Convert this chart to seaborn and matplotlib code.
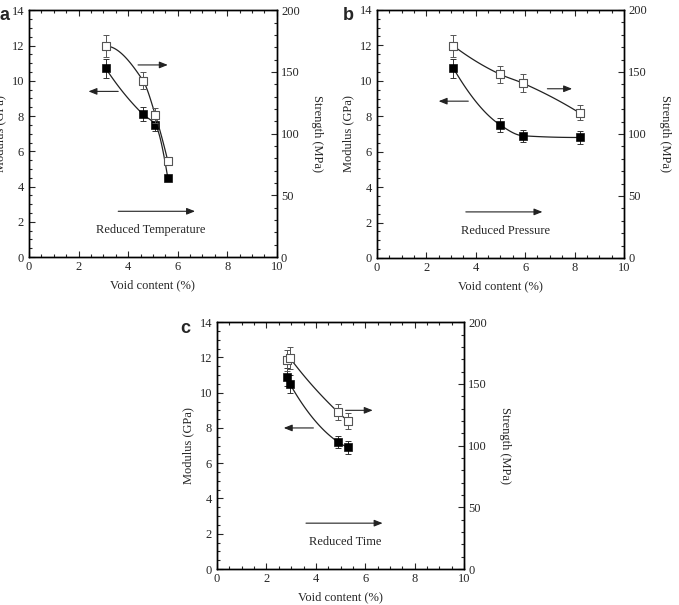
import numpy as np
import pandas as pd
import seaborn as sns
import matplotlib
matplotlib.use("Agg")
import matplotlib.pyplot as plt
from matplotlib.ticker import MultipleLocator

sns.set_style("ticks")
plt.rcParams['font.family'] = ['Liberation Serif', 'DejaVu Serif']

# --- data ---
# a: reduced temperature
void_a = [3.1, 4.6, 5.1, 5.6]
mod_a = [10.7, 8.1, 7.5, 4.5]
mod_err_a = [0.55, 0.4, 0.35, 0.15]
str_a = [171, 143, 115, 78]
str_err_a = [8.6, 7.0, 6.0, 3.5]

# b: reduced pressure
void_b = [3.1, 5.0, 5.9, 8.2]
mod_b = [10.7, 7.5, 6.9, 6.8]
mod_err_b = [0.55, 0.4, 0.35, 0.35]
str_b = [171, 148, 141, 117]
str_err_b = [8.6, 7.0, 7.0, 6.0]

# c: reduced time
void_c = [2.85, 2.95, 4.9, 5.3]
mod_c = [10.9, 10.5, 7.2, 6.9]
mod_err_c = [0.5, 0.5, 0.35, 0.35]
str_c = [169, 171, 127, 120]
str_err_c = [8.6, 8.6, 6.5, 6.5]

panel_labels = ['a', 'b', 'c']
process_labels = ['Reduced Temperature', 'Reduced Pressure', 'Reduced Time']


def pchip(x, y, xs):
    # shape preserving cubic through the measured points (guide line)
    x = np.asarray(x, float); y = np.asarray(y, float)
    h = np.diff(x); d = np.diff(y) / h
    n = len(x)
    m = np.zeros(n)
    for k in range(1, n - 1):
        if d[k - 1] * d[k] > 0:
            w1 = 2 * h[k] + h[k - 1]
            w2 = h[k] + 2 * h[k - 1]
            m[k] = (w1 + w2) / (w1 / d[k - 1] + w2 / d[k])
    def end(h0, h1, d0, d1):
        if n == 2:
            return d0
        e = ((2 * h0 + h1) * d0 - h0 * d1) / (h0 + h1)
        if np.sign(e) != np.sign(d0):
            e = 0.0
        elif np.sign(d0) != np.sign(d1) and abs(e) > abs(3 * d0):
            e = 3 * d0
        return e
    m[0] = end(h[0], h[1] if n > 2 else h[0], d[0], d[1] if n > 2 else d[0])
    m[-1] = end(h[-1], h[-2] if n > 2 else h[-1], d[-1], d[-2] if n > 2 else d[-1])
    out = np.empty_like(xs)
    for i, xv in enumerate(xs):
        k = min(max(np.searchsorted(x, xv) - 1, 0), n - 2)
        t = (xv - x[k]) / h[k]
        h00 = 2 * t**3 - 3 * t**2 + 1
        h10 = t**3 - 2 * t**2 + t
        h01 = -2 * t**3 + 3 * t**2
        h11 = t**3 - t**2
        out[i] = h00 * y[k] + h10 * h[k] * m[k] + h01 * y[k + 1] + h11 * h[k] * m[k + 1]
    return out


fig = plt.figure(figsize=(6.79, 6.05), dpi=100)
positions = [
    [0.0427, 0.575, 0.365, 0.408],
    [0.555, 0.5736, 0.364, 0.41],
    [0.3196, 0.0595, 0.364, 0.408],
]
label_pos = [(0.0, 0.988), (0.505, 0.988), (0.265, 0.471)]

panels = [
    (void_a, mod_a, mod_err_a, str_a, str_err_a, slice(0, 4)),
    (void_b, mod_b, mod_err_b, str_b, str_err_b, slice(0, 4)),
    (void_c, mod_c, mod_err_c, str_c, str_err_c, slice(1, 4)),
]
# arrow positions (x from, x to, y in GPa)
left_arrows = [(3.6, 2.4, 9.4), (3.7, 2.5, 8.85), (3.9, 2.7, 8.0)]
right_arrows = [(4.4, 5.6, 10.9), (6.9, 7.9, 9.55), (5.2, 6.3, 9.0)]
text_x = [4.9, 5.2, 5.2]

fs = 9
for i, (vx, mod, merr, stg, serr, fit) in enumerate(panels):
    ax = fig.add_axes(positions[i])
    ax2 = ax.twinx()

    df = pd.DataFrame({'void': vx, 'modulus': mod, 'strength': stg})
    xs = np.linspace(vx[fit][0], vx[fit][-1], 120)
    fit_df = pd.DataFrame({'void': xs,
                           'modulus': pchip(vx[fit], mod[fit], xs),
                           'strength': pchip(vx[fit], stg[fit], xs)})

    sns.lineplot(data=fit_df, x='void', y='modulus', ax=ax, color='#222222', lw=0.9)
    sns.lineplot(data=fit_df, x='void', y='strength', ax=ax2, color='#222222', lw=0.9)

    ax.errorbar(vx, mod, yerr=merr, fmt='none', ecolor='#333333', elinewidth=0.7, capsize=2.2, capthick=0.7)
    ax2.errorbar(vx, stg, yerr=serr, fmt='none', ecolor='#555555', elinewidth=0.7, capsize=2.2, capthick=0.7)
    sns.scatterplot(data=df, x='void', y='modulus', ax=ax, marker='s', s=30, color='black',
                    edgecolor='black', zorder=5)
    sns.scatterplot(data=df, x='void', y='strength', ax=ax2, marker='s', s=26, color='white',
                    edgecolor='#555555', linewidth=0.8, zorder=5)

    ax.set_xlim(0, 10)
    ax.set_ylim(0, 14)
    ax2.set_ylim(0, 200)
    ax.xaxis.set_major_locator(MultipleLocator(2))
    ax.xaxis.set_minor_locator(MultipleLocator(0.5))
    ax.yaxis.set_major_locator(MultipleLocator(2))
    ax.yaxis.set_minor_locator(MultipleLocator(0.5))
    ax2.yaxis.set_major_locator(MultipleLocator(50))
    ax2.yaxis.set_minor_locator(MultipleLocator(10))
    ax.tick_params(which='both', direction='in', top=True, labelsize=fs, width=0.8)
    ax.tick_params(axis='x', pad=3)
    ax.tick_params(axis='y', pad=3.5)
    ax.tick_params(which='major', length=4)
    ax.tick_params(which='minor', length=2)
    ax2.tick_params(which='both', direction='in', labelsize=fs, pad=3, width=0.8)
    ax2.tick_params(which='major', length=4)
    ax2.tick_params(which='minor', length=2)
    for a in (ax, ax2):
        for sp in a.spines.values():
            sp.set_linewidth(1.0)
            sp.set_color('black')

    ax.set_xlabel('Void content (%)', fontsize=fs, labelpad=4.5)
    ax.set_ylabel('Modulus (GPa)', fontsize=fs, labelpad=4)
    ax2.set_ylabel('Strength (MPa)', fontsize=fs, rotation=270, labelpad=17)

    arrow_kw = dict(arrowstyle='-|>,head_length=0.5,head_width=0.2', color='#222222', lw=0.8,
                    shrinkA=0, shrinkB=0)
    x0, x1, y = left_arrows[i]
    ax.annotate('', xy=(x1, y), xytext=(x0, y), arrowprops=arrow_kw)
    x0, x1, y = right_arrows[i]
    ax.annotate('', xy=(x1, y), xytext=(x0, y), arrowprops=arrow_kw)
    ax.annotate('', xy=(6.7, 2.6), xytext=(3.6, 2.6), arrowprops=arrow_kw)
    ax.text(text_x[i], 1.55, process_labels[i], fontsize=fs, ha='center', va='center')

    fig.text(label_pos[i][0], label_pos[i][1], panel_labels[i], fontsize=13, fontweight='bold',
             family=['Liberation Sans', 'DejaVu Sans'], ha='left', va='top')

fig.savefig('out.png', dpi=100)
